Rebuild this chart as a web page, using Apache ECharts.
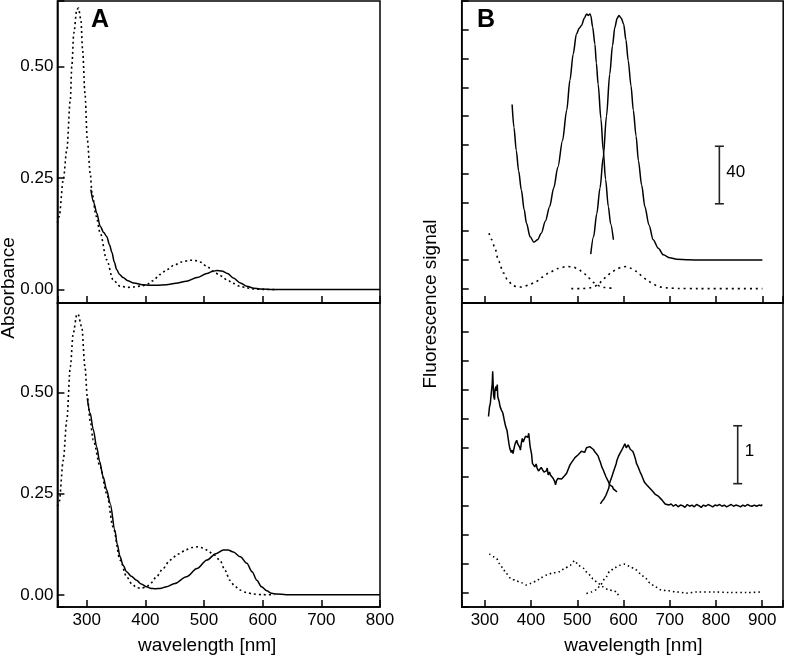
<!DOCTYPE html>
<html>
<head>
<meta charset="utf-8">
<script src="https://cdn.jsdelivr.net/npm/echarts@6/dist/echarts.min.js"></script>
<style>
html,body{margin:0;padding:0;background:#fff;}
#chart{width:786px;height:657px;}
</style>
</head>
<body>
<div id="chart"></div>
<script>
// ---------- Panel A (absorbance), top ----------
const aTopSolidNm  = [307,312,317,323,329,334,339,343,347,351,356,362,370,380,395,408,420,436,452,470,488,505,515,522,530,540,550,562,573,585,595,620,650,700,800];
const aTopSolidVal = [0.224,0.195,0.172,0.142,0.128,0.119,0.100,0.083,0.062,0.045,0.034,0.027,0.020,0.015,0.011,0.0097,0.0097,0.011,0.014,0.019,0.027,0.036,0.041,0.043,0.042,0.036,0.026,0.015,0.0075,0.003,0.0015,0.0005,0,0,0];
const aTopDotNm  = [250,253,260,266,272,274.5,278,283,286,290,293,297,301,306,309,316,323,334,345,357,370,380,392,402,413,425,437,448,462,476,486,493,505,516,528,539,550,561,573,584,600,620];
const aTopDotVal = [0.15,0.164,0.246,0.313,0.425,0.50,0.575,0.627,0.631,0.605,0.537,0.44,0.336,0.261,0.217,0.165,0.127,0.067,0.022,0.0075,0.005,0.006,0.008,0.011,0.02,0.034,0.045,0.054,0.062,0.066,0.065,0.062,0.052,0.041,0.031,0.022,0.014,0.0075,0.004,0.0015,0.0005,0];

// ---------- Panel A (absorbance), bottom ----------
const aBotSolidNm  = [301,306,311,317,322,328,334,340,348,352,357,362,368,376,385,393,402,410,417,425,436,450,470,488,505,520,533,541,550,562,573,582,590,598,607,615,624,640,660,800];
const aBotSolidVal = [0.486,0.449,0.41,0.366,0.33,0.292,0.26,0.226,0.16,0.125,0.094,0.073,0.057,0.046,0.036,0.027,0.020,0.016,0.015,0.016,0.020,0.028,0.045,0.065,0.086,0.102,0.111,0.111,0.106,0.094,0.078,0.057,0.036,0.020,0.010,0.004,0.002,0.0005,0,0];
const aBotDotNm  = [250,253,260,266,272,277,283,285,291.5,297,301,306,311,323,334,345,357,368,377,385,393,402,410,419,430,442,456,470,480,490,498,505,516,527,536,544,552,561,572,584,600,620];
const aBotDotVal = [0.22,0.23,0.333,0.432,0.564,0.647,0.692,0.695,0.663,0.564,0.49,0.43,0.383,0.317,0.251,0.168,0.086,0.045,0.027,0.018,0.016,0.020,0.030,0.045,0.065,0.086,0.101,0.112,0.117,0.119,0.116,0.111,0.100,0.086,0.060,0.036,0.022,0.012,0.006,0.002,0.0005,0];

// ---------- Panel B (fluorescence), top ----------
const bTopExNm  = [359,363,368,373,379,385,390,398,406,414,422,431,440,449,458,468,477,484,491,498,504,509,515,520,524,527,529,533,538,541,545,551,556,561,567,572,578];
const bTopExVal = [128,112,96,82,68.5,55,45.5,36,32.3,34,38.5,47,57,70,84.6,103,124,145,163,177,181,183,188,191,190,191,190,182,170,157,142,118,96,76,57,45,34];
const bTopEmNm  = [529,535,542,549,556,563,570,576,581,586,590,595,600,605,610,616,621,627,632,639,646,655,664,675,686,700,715,740,766,800,850,900];
const bTopEmVal = [24,36,52,70,91.5,120,149,169,181.5,188,190,188,184,173,158.5,141,124,106,89,72,57,44,34,28,23.5,21.5,20.5,20,19.9,19.9,19.9,19.9];
const bTopExDotNm  = [309,315,321,330,340,350,361,372,382,395,411,425,440,458,477,491,502,513,524,534,541,549,560,578];
const bTopExDotVal = [38.5,34,29,19,11,5.5,2,1,1.2,2.5,5,8,11.3,14,15.4,15,13.5,11,7.5,4.4,2.8,1.6,0.8,0];
const bTopEmDotNm  = [487,510,527,536,545,554,563,574,585,596,607,617,628,639,650,661,672,683,694,720,760,900];
const bTopEmDotVal = [0,0,0.5,1.3,2.8,5.5,8.5,11.5,13.6,15,15.4,14,12,9,6.2,3.8,2,1,0.5,0.1,0,0];

// ---------- Panel B (fluorescence), bottom ----------
const bBotExNm  = [308,310,312,314,316,317,319,321,322,324,325,327,328,331,333,336,339,342,345,348,350,352,354,357,359,361,363,364,366,369,371,374,376,377,379,381,383,386,388,391,393,395,397,398,401,403,406,408,411,413,416,419,422,425,428,430,433,435,437,440,442,445,448,451,453,455,458,462,466,470,473,477,480,484,487,491,495,498,502,506,509,513,516,520,523,527,531,535,538,542,545,548,550,553,556,559,562,565,567,570,573,576,578,581,584,586];
const bBotExVal = [3.04,3.20,3.27,3.45,3.60,3.82,3.40,3.33,3.50,3.56,3.48,3.59,3.38,3.30,3.21,3.15,3.10,2.98,2.87,2.80,2.69,2.58,2.49,2.42,2.46,2.40,2.48,2.52,2.58,2.63,2.57,2.55,2.50,2.46,2.58,2.66,2.60,2.63,2.70,2.72,2.68,2.75,2.73,2.52,2.40,2.23,2.20,2.17,2.22,2.15,2.10,2.12,2.16,2.12,2.08,2.06,2.10,2.15,2.03,2.08,2.03,2.00,1.97,1.92,1.86,1.93,1.97,1.99,1.96,1.97,2.02,2.06,2.12,2.20,2.24,2.26,2.33,2.35,2.38,2.40,2.44,2.46,2.42,2.50,2.49,2.52,2.49,2.47,2.43,2.40,2.36,2.29,2.25,2.17,2.12,2.06,2.00,1.97,1.92,1.86,1.88,1.83,1.79,1.77,1.75,1.74];
const bBotEmNm  = [550,553,555,558,560,562,565,568,570,573,576,578,581,584,586,589,592,595,598,600,603,606,608,610,612,615,618,620,623,626,628,631,634,636,639,642,645,648,650,654,657,661,664,668,672,676,679,683,686,690,694,698,703,708,713,718,723,728,733,738,743,748,753,758,763,768,773,778,783,788,793,798,803,808,813,818,823,828,833,838,843,848,853,858,863,868,873,878,883,888,893,898,900];
const bBotEmVal = [1.53,1.57,1.60,1.62,1.64,1.68,1.71,1.80,1.89,1.96,2.03,2.08,2.15,2.22,2.29,2.35,2.40,2.44,2.46,2.52,2.57,2.50,2.49,2.55,2.53,2.47,2.49,2.44,2.38,2.30,2.23,2.18,2.15,2.08,2.03,1.97,1.91,1.88,1.86,1.83,1.80,1.78,1.74,1.70,1.67,1.66,1.64,1.60,1.57,1.53,1.56,1.51,1.53,1.49,1.52,1.48,1.51,1.50,1.47,1.52,1.49,1.51,1.48,1.52,1.50,1.47,1.51,1.49,1.52,1.50,1.48,1.51,1.50,1.52,1.49,1.51,1.48,1.50,1.52,1.49,1.51,1.50,1.48,1.51,1.49,1.52,1.50,1.49,1.51,1.49,1.51,1.50,1.52];
const bBotExDotNm  = [310,318,325,332,339,346,357,368,379,390,401,412,422,433,448,462,473,484,495,502,513,523,534,545,556,567,578,586,590];
const bBotExDotVal = [0.67,0.62,0.59,0.50,0.42,0.33,0.24,0.20,0.17,0.13,0.16,0.20,0.26,0.30,0.34,0.36,0.42,0.47,0.55,0.47,0.42,0.33,0.24,0.16,0.10,0.05,0.03,0.01,-0.10];
const bBotEmDotNm  = [520,531,542,550,560,570,581,592,603,614,625,636,646,657,668,683,697,715,737,759,795,831,867,900];
const bBotEmDotVal = [-0.02,0.01,0.05,0.13,0.24,0.36,0.43,0.47,0.49,0.45,0.40,0.33,0.26,0.17,0.10,0.04,0.03,0.01,-0.01,0.01,0.01,0,0,0.01];

// ---------- scale bars (wavelength, from, to) ----------
const scaleTopBar = [807, 59, 99];
const scaleTopLabel = '40';
const scaleBotBar = [847, 1.88, 2.88];
const scaleBotLabel = '1';

const xTickLabelsA = [300, 400, 500, 600, 700, 800];
const xTickLabelsB = [300, 400, 500, 600, 700, 800, 900];
const yTickLabelsA = [0, 0.25, 0.5];

function zip(xs, ys) { return xs.map((x, i) => [x, ys[i]]); }

const FONT = 'Liberation Sans';
const BLACK = '#000';

function lineSeries(xi, yi, xs, ys, dotted, smooth, dash) {
  return {
    type: 'line', xAxisIndex: xi, yAxisIndex: yi,
    data: zip(xs, ys), showSymbol: false, symbol: 'none',
    smooth: smooth ? 0.3 : false, smoothMonotone: smooth ? 'x' : undefined,
    animation: false, silent: true, clip: true,
    lineStyle: { color: BLACK, width: dotted ? 1.6 : 1.5, type: dotted ? (dash || [2, 3]) : 'solid' }
  };
}

function scaleSeries(xi, yi, bar, label) {
  return {
    type: 'custom', xAxisIndex: xi, yAxisIndex: yi, animation: false, silent: true,
    data: [bar],
    renderItem: function (params, api) {
      const x = api.value(0), y1 = api.value(1), y2 = api.value(2);
      const p1 = api.coord([x, y1]), p2 = api.coord([x, y2]);
      const cap = 4.5;
      const st = { stroke: '#222', lineWidth: 1.6 };
      return { type: 'group', children: [
        { type: 'line', shape: { x1: p1[0], y1: p1[1], x2: p2[0], y2: p2[1] }, style: st },
        { type: 'line', shape: { x1: p1[0] - cap, y1: p1[1], x2: p1[0] + cap, y2: p1[1] }, style: st },
        { type: 'line', shape: { x1: p2[0] - cap, y1: p2[1], x2: p2[0] + cap, y2: p2[1] }, style: st },
        { type: 'text', x: p1[0] + 7, y: (p1[1] + p2[1]) / 2 - 3,
          style: { text: label, fill: BLACK, font: '17px "' + FONT + '"', align: 'left', verticalAlign: 'middle' } }
      ]};
    }
  };
}

function isIn(list, v) { return list.some(t => Math.abs(t - v) < 1e-6); }

function xAxis(gi, min, max, showLabels, labels, namePad) {
  return {
    type: 'value', gridIndex: gi, min: min, max: max,
    minInterval: 100, maxInterval: 100, splitNumber: 7,
    axisLine: { show: true, onZero: false, lineStyle: { color: BLACK, width: 1.5 } },
    axisTick: { show: true, inside: true, length: 7, lineStyle: { color: BLACK, width: 1.5 } },
    splitLine: { show: false },
    axisLabel: { show: showLabels, margin: 5, color: BLACK, fontSize: 17, fontFamily: FONT,
      formatter: v => isIn(labels, v) ? String(v) : '' },
    name: showLabels ? 'wavelength [nm]' : '',
    nameLocation: 'middle', nameGap: 29,
    nameTextStyle: { color: BLACK, fontSize: 19, fontFamily: FONT, padding: namePad }
  };
}

function yAxis(gi, min, max, step, showLabels) {
  return {
    type: 'value', gridIndex: gi, min: min, max: max,
    minInterval: step, maxInterval: step, splitNumber: 10,
    axisLine: { show: true, onZero: false, lineStyle: { color: BLACK, width: 1.5 } },
    axisTick: { show: true, inside: true, length: 7, lineStyle: { color: BLACK, width: 1.5 } },
    splitLine: { show: false },
    axisLabel: { show: showLabels, margin: 4, color: BLACK, fontSize: 17, fontFamily: FONT,
      formatter: v => isIn(yTickLabelsA, v) ? v.toFixed(2) : '' }
  };
}

const gridStyle = { show: true, borderColor: BLACK, borderWidth: 1.5, backgroundColor: 'transparent' };

const option = {
  animation: false,
  backgroundColor: '#fff',
  textStyle: { fontFamily: FONT },
  grid: [
    Object.assign({ left: 57.4, top: 1, width: 322.6, height: 302 }, gridStyle),
    Object.assign({ left: 57.4, top: 303, width: 322.6, height: 304 }, gridStyle),
    Object.assign({ left: 461.7, top: 1, width: 321.5, height: 302 }, gridStyle),
    Object.assign({ left: 461.7, top: 303, width: 321.5, height: 304 }, gridStyle)
  ],
  xAxis: [
    xAxis(0, 250, 800, false, xTickLabelsA, 0),
    xAxis(1, 250, 800, true, xTickLabelsA, [0, 23, 0, 0]),
    xAxis(2, 250, 945, false, xTickLabelsB, 0),
    xAxis(3, 250, 945, true, xTickLabelsB, [0, 0, 0, 22])
  ],
  yAxis: [
    yAxis(0, -0.03, 0.647, 0.25, true),
    yAxis(1, -0.03, 0.722, 0.25, true),
    yAxis(2, -10, 200, 20, false),
    yAxis(3, -0.25, 5.0, 0.5, false)
  ],
  graphic: [
    { type: 'text', x: 9, y: 288, rotation: Math.PI / 2,
      style: { text: 'Absorbance', fill: BLACK, font: '19px "' + FONT + '"', align: 'center', verticalAlign: 'middle' } },
    { type: 'text', x: 431, y: 304, rotation: Math.PI / 2,
      style: { text: 'Fluorescence signal', fill: BLACK, font: '19px "' + FONT + '"', align: 'center', verticalAlign: 'middle' } },
    { type: 'text', x: 91, y: 8,
      style: { text: 'A', fill: BLACK, font: 'bold 25px "' + FONT + '"', align: 'left', verticalAlign: 'top' } },
    { type: 'text', x: 477, y: 8,
      style: { text: 'B', fill: BLACK, font: 'bold 25px "' + FONT + '"', align: 'left', verticalAlign: 'top' } }
  ],
  series: [
    lineSeries(0, 0, aTopDotNm, aTopDotVal, true, true),
    lineSeries(0, 0, aTopSolidNm, aTopSolidVal, false, true),
    lineSeries(1, 1, aBotDotNm, aBotDotVal, true, true),
    lineSeries(1, 1, aBotSolidNm, aBotSolidVal, false, true),
    lineSeries(2, 2, bTopExNm, bTopExVal, false, true),
    lineSeries(2, 2, bTopEmNm, bTopEmVal, false, true),
    lineSeries(2, 2, bTopExDotNm, bTopExDotVal, true, true, [2, 4]),
    lineSeries(2, 2, bTopEmDotNm, bTopEmDotVal, true, true, [2, 4]),
    lineSeries(3, 3, bBotExNm, bBotExVal, false, false),
    lineSeries(3, 3, bBotEmNm, bBotEmVal, false, false),
    lineSeries(3, 3, bBotExDotNm, bBotExDotVal, true, true, [1.5, 3]),
    lineSeries(3, 3, bBotEmDotNm, bBotEmDotVal, true, true, [1.5, 3]),
    scaleSeries(2, 2, scaleTopBar, scaleTopLabel),
    scaleSeries(3, 3, scaleBotBar, scaleBotLabel)
  ]
};

const chart = echarts.init(document.getElementById('chart'), null, { renderer: 'canvas' });
chart.setOption(option);
</script>
</body>
</html>
